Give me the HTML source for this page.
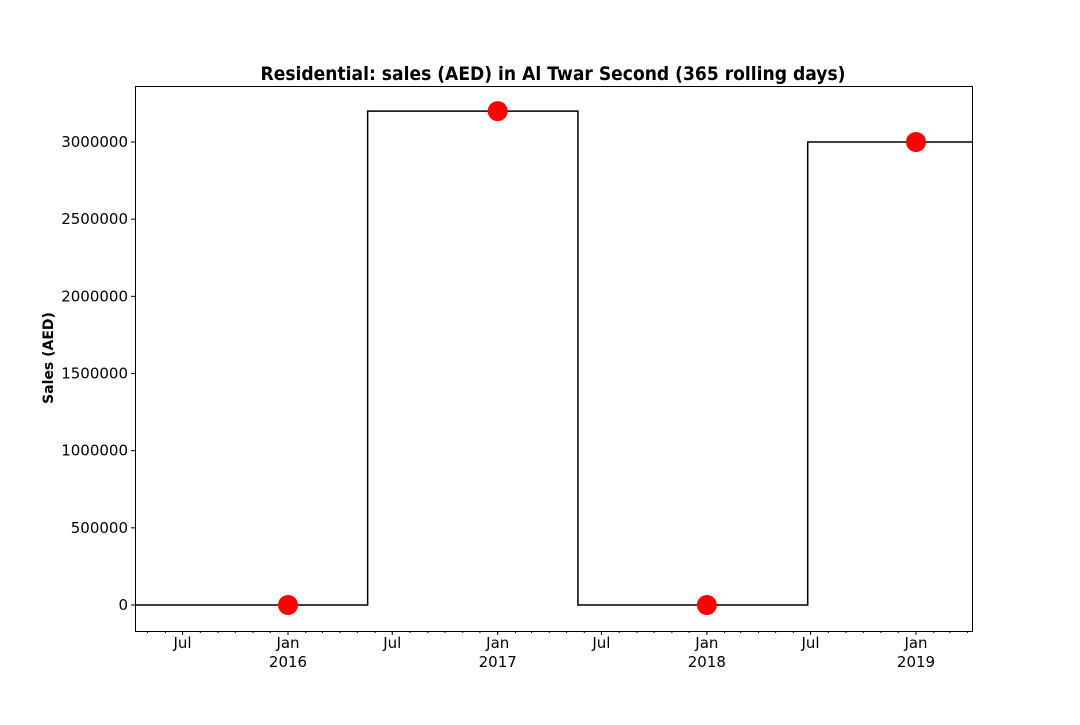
<!DOCTYPE html>
<html><head><meta charset="utf-8"><style>
html,body{margin:0;padding:0;background:#fff;}
svg text{font-family:"DejaVu Sans","Liberation Sans",sans-serif;fill:#000;}
</style></head><body>
<svg id="chart" width="1080" height="720" xmlns="http://www.w3.org/2000/svg">
<rect width="1080" height="720" fill="#fff"/>
<text x="553" y="80" text-anchor="middle" font-size="19" font-weight="bold" textLength="585" lengthAdjust="spacingAndGlyphs">Residential: sales (AED) in Al Twar Second (365 rolling days)</text>
<text transform="translate(53,358) rotate(-90)" text-anchor="middle" font-size="14" font-weight="bold">Sales (AED)</text>
<g id="grid"></g>
<g id="marks"></g>
<rect x="135.5" y="86.5" width="837" height="545" fill="none" stroke="#000" stroke-width="1"/>
</svg>
<script>
const stepDates = ["2015-04-09","2016-05-19","2017-05-21","2018-06-26","2019-04-09"];
const stepValues = [0, 3200000, 0, 3000000];
const pointDates = ["2016-01-01","2017-01-01","2018-01-01","2019-01-01"];
const pointValues = [0, 3200000, 0, 3000000];
const yTicks = [0,500000,1000000,1500000,2000000,2500000,3000000];
const majorTickDates = ["2015-07-01","2016-01-01","2016-07-01","2017-01-01","2017-07-01","2018-01-01","2018-07-01","2019-01-01"];
const majorTickLabels = ["Jul","Jan\n2016","Jul","Jan\n2017","Jul","Jan\n2018","Jul","Jan\n2019"];

const NS="http://www.w3.org/2000/svg";
const t0=Date.UTC(2016,0,1), t1=Date.UTC(2019,0,1);
function xs(d){const t=(typeof d==="number")?d:Date.parse(d+"T00:00:00Z");return 288+(t-t0)/(t1-t0)*(916-288);}
function ys(v){return 605-v/3000000*(605-142);}
const grid=document.getElementById('grid'), marks=document.getElementById('marks');
function mk(tag,attrs,parent){const e=document.createElementNS(NS,tag);for(const k in attrs)e.setAttribute(k,attrs[k]);parent.appendChild(e);return e;}

yTicks.forEach(v=>{
  const y=ys(v);
  const l=mk('line',{x1:131,x2:135,y1:y,y2:y,stroke:'#000'},grid);
  
  
  const t=mk('text',{x:128,y:y+5,'text-anchor':'end','font-size':15},grid);
  
  
  t.textContent=String(v);
});
for(let yr=2015;yr<=2019;yr++)for(let m=0;m<12;m++){
  const x=xs(Date.UTC(yr,m,1));
  if(x<135||x>972)continue;
  const l=mk('line',{x1:x,x2:x,y1:631,y2:633,stroke:'#000'},grid);
  
  
}
majorTickDates.forEach((d,i)=>{
  const x=xs(d);
  const l=mk('line',{x1:x,x2:x,y1:631,y2:635,stroke:'#000'},grid);
  
  
  const lines=majorTickLabels[i].split("\n");
  lines.forEach((s,j)=>{
    const t=mk('text',{x:x,y:648+j*19,'text-anchor':'middle','font-size':15},grid);
    
    
    t.textContent=s;
  });
});
let p="";
stepValues.forEach((v,i)=>{
  const xa=xs(stepDates[i]), xb=xs(stepDates[i+1]), y=ys(v);
  p+=(i===0?"M":"L")+xa+","+y+"L"+xb+","+y;
});
const path=mk('path',{d:p,fill:'none',stroke:'#000','stroke-width':1.5},marks);


pointValues.forEach((v,i)=>{
  const c=mk('circle',{cx:xs(pointDates[i]),cy:ys(v),r:10,fill:'#ff0000'},marks);
  
  
});
</script>
</body></html>
